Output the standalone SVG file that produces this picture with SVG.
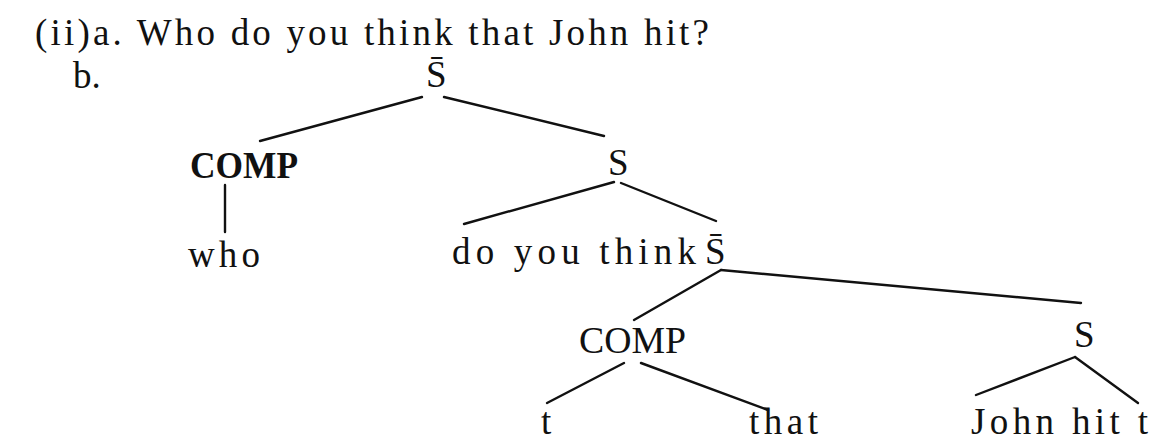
<svg xmlns="http://www.w3.org/2000/svg" width="1151" height="440" viewBox="0 0 1151 440">
<style>
text{font-family:"Liberation Serif","Times New Roman",serif;font-size:37px;fill:#111}
.b{font-weight:bold}
.e{stroke:#111;stroke-width:2.4;stroke-linecap:round;fill:none}
</style>
<rect width="1151" height="440" fill="#fff"/>
<g id="header">
<text x="35" y="45" textLength="674" lengthAdjust="spacing">(ii)a. Who do you think that John hit?</text>
<text x="73" y="88">b.</text>
</g>
<g id="connectors">
<line class="e" x1="422" y1="97" x2="260" y2="141"/>
<line class="e" x1="444" y1="97" x2="604" y2="136"/>
<line class="e" x1="225" y1="185" x2="225" y2="232"/>
<line class="e" x1="614" y1="182" x2="464" y2="224"/>
<line class="e" x1="621" y1="183" x2="716" y2="221"/>
<line class="e" x1="721" y1="270" x2="634" y2="320"/>
<line class="e" x1="721" y1="270" x2="1081" y2="303"/>
<line class="e" x1="624" y1="363" x2="547" y2="403"/>
<line class="e" x1="641" y1="363" x2="768" y2="410"/>
<line class="e" x1="1075" y1="357" x2="976" y2="395"/>
<line class="e" x1="1075" y1="357" x2="1138" y2="403"/>
</g>
<g id="sbar1"><text x="426" y="87">S&#x0304;</text></g>
<g id="comp1"><text class="b" x="190" y="178" textLength="108" lengthAdjust="spacingAndGlyphs">COMP</text></g>
<g id="who"><text x="188" y="267" textLength="72" lengthAdjust="spacing">who</text></g>
<g id="s1"><text x="608" y="175">S</text></g>
<g id="doyouthink"><text x="452" y="264" textLength="244" lengthAdjust="spacing">do you think</text></g>
<g id="sbar2"><text x="705" y="264">S&#x0304;</text></g>
<g id="comp2"><text x="579" y="353" textLength="107" lengthAdjust="spacingAndGlyphs">COMP</text></g>
<g id="s2"><text x="1074" y="347">S</text></g>
<g id="trace"><text x="541" y="434">t</text></g>
<g id="that"><text x="749" y="434" textLength="69" lengthAdjust="spacing">that</text></g>
<g id="johnhit"><text x="971" y="434" textLength="177" lengthAdjust="spacing">John hit t</text></g>
</svg>
